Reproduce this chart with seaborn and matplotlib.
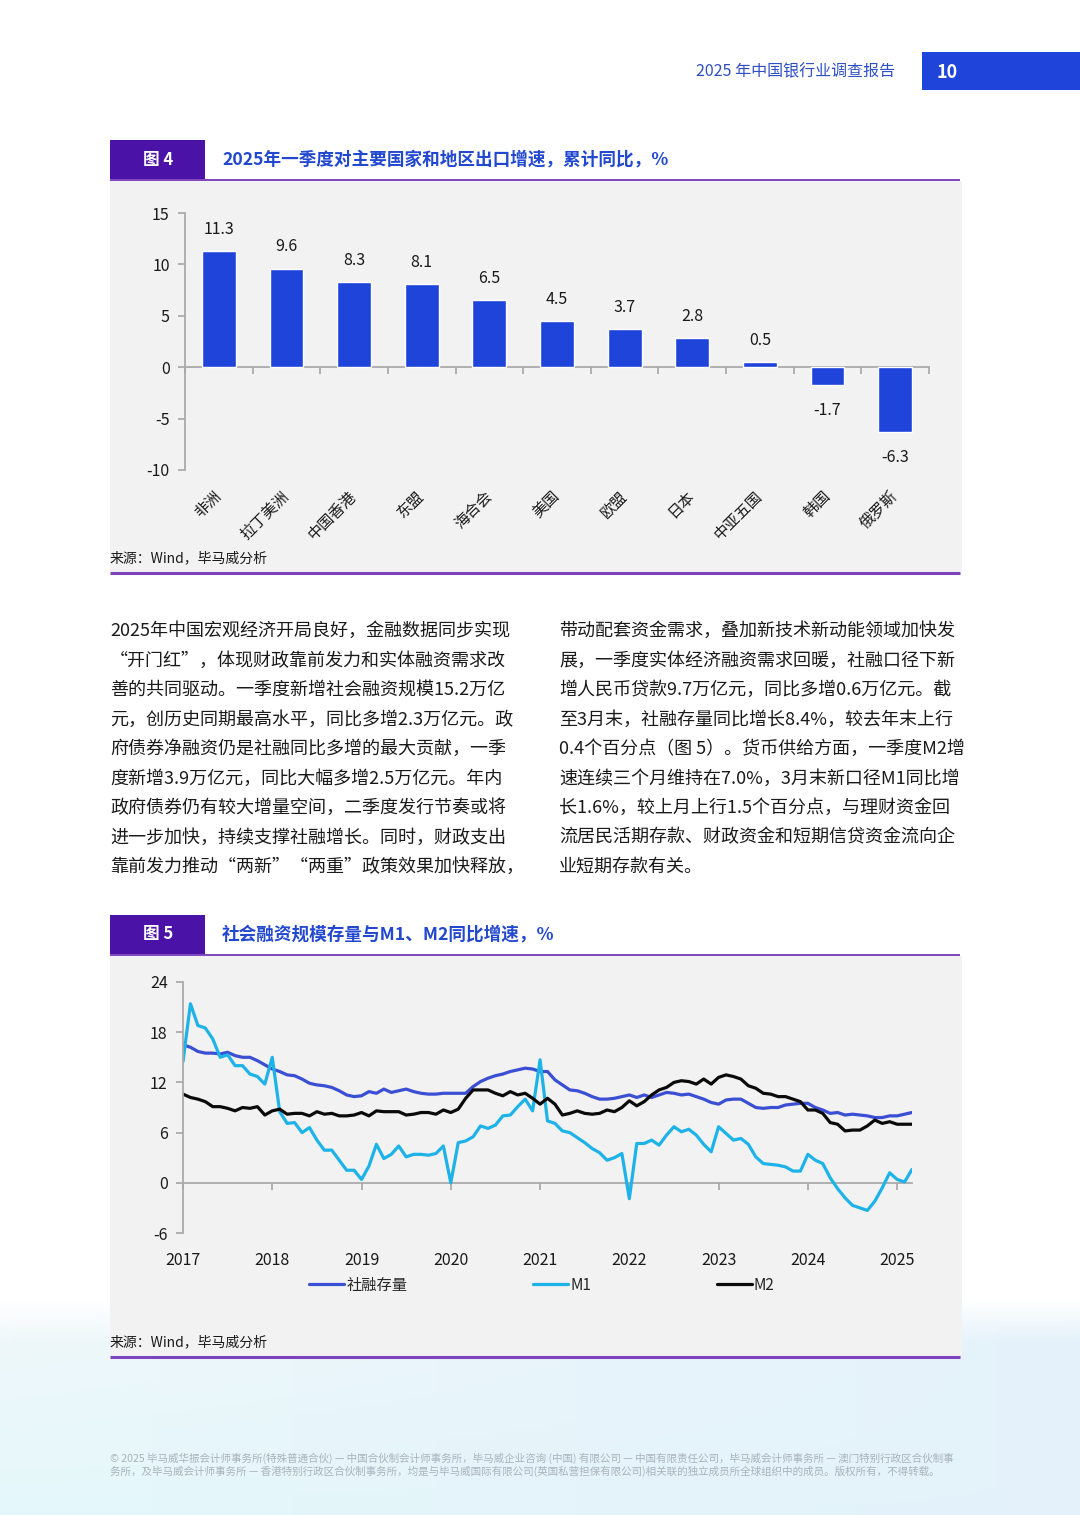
import numpy as np
import pandas as pd
import seaborn as sns
import matplotlib.pyplot as plt
from matplotlib.patches import Rectangle

# ---- data: figure 4 (export growth by region, Q1 2025, %) ----
regions = ["非洲", "拉丁美洲", "中国香港", "东盟", "海合会", "美国", "欧盟", "日本", "中亚五国", "韩国", "俄罗斯"]
export_growth = [11.3, 9.6, 8.3, 8.1, 6.5, 4.5, 3.7, 2.8, 0.5, -1.7, -6.3]

# ---- data: figure 5 (monthly yoy %, Jan 2017 - Mar 2025) ----
start_month = "2017-01"
tsf_stock = [16.5, 16.2, 15.7, 15.5, 15.5, 15.4, 15.6, 15.2, 15.0, 15.0, 14.6, 14.1,
             13.6, 13.3, 12.9, 12.8, 12.4, 11.9, 11.7, 11.6, 11.4, 11.0, 10.5, 10.3,
             10.4, 10.9, 10.7, 11.2, 10.8, 11.0, 11.2, 10.9, 10.7, 10.6, 10.6, 10.7,
             10.7, 10.7, 10.7, 11.5, 12.1, 12.5, 12.8, 13.0, 13.3, 13.5, 13.7, 13.6,
             13.3, 13.3, 12.3, 11.7, 11.1, 11.0, 10.7, 10.3, 10.0, 10.0, 10.1, 10.3,
             10.5, 10.2, 10.5, 10.2, 10.5, 10.8, 10.7, 10.5, 10.6, 10.3, 10.0, 9.6,
             9.4, 9.9, 10.0, 10.0, 9.5, 9.0, 8.9, 9.0, 9.0, 9.3, 9.4, 9.5,
             9.5, 9.0, 8.7, 8.3, 8.4, 8.1, 8.2, 8.1, 8.0, 7.8, 7.8, 8.0,
             8.0, 8.2, 8.4]
m1 = [14.5, 21.4, 18.8, 18.5, 17.2, 15.0, 15.3, 14.0, 14.0, 13.0, 12.7, 11.8,
      15.0, 8.5, 7.1, 7.2, 6.0, 6.6, 5.1, 3.9, 3.9, 2.7, 1.5, 1.5,
      0.4, 2.0, 4.6, 2.9, 3.4, 4.4, 3.1, 3.4, 3.4, 3.3, 3.5, 4.4,
      0.0, 4.8, 5.0, 5.5, 6.8, 6.5, 6.9, 8.0, 8.1, 9.1, 10.0, 8.6,
      14.7, 7.4, 7.1, 6.2, 6.0, 5.4, 4.8, 4.1, 3.6, 2.7, 3.0, 3.5,
      -1.9, 4.7, 4.7, 5.1, 4.5, 5.7, 6.7, 6.1, 6.4, 5.7, 4.6, 3.7,
      6.7, 5.9, 5.1, 5.3, 4.6, 3.1, 2.3, 2.2, 2.1, 1.9, 1.4, 1.4,
      3.4, 2.7, 2.3, 0.6, -0.7, -1.8, -2.7, -3.0, -3.3, -2.2, -0.6, 1.2,
      0.4, 0.1, 1.6]
m2 = [10.6, 10.2, 10.0, 9.7, 9.1, 9.1, 8.9, 8.6, 9.0, 8.9, 9.1, 8.1,
      8.6, 8.8, 8.2, 8.3, 8.3, 8.0, 8.5, 8.2, 8.3, 8.0, 8.0, 8.1,
      8.4, 8.0, 8.6, 8.5, 8.5, 8.5, 8.1, 8.2, 8.4, 8.4, 8.2, 8.7,
      8.4, 8.8, 10.1, 11.1, 11.1, 11.1, 10.7, 10.4, 10.9, 10.5, 10.7, 10.1,
      9.4, 10.1, 9.4, 8.1, 8.3, 8.6, 8.3, 8.2, 8.3, 8.7, 8.5, 9.0,
      9.8, 9.2, 9.7, 10.5, 11.1, 11.4, 12.0, 12.2, 12.1, 11.8, 12.4, 11.8,
      12.6, 12.9, 12.7, 12.4, 11.6, 11.3, 10.7, 10.6, 10.3, 10.3, 10.0, 9.7,
      8.7, 8.7, 8.3, 7.2, 7.0, 6.2, 6.3, 6.3, 6.8, 7.5, 7.1, 7.3,
      7.0, 7.0, 7.0]
series_names = ["社融存量", "M1", "M2"]
year_ticks = list(range(2017, 2026))

left_para = [
    "2025年中国宏观经济开局良好，金融数据同步实现",
    "“开门红”，体现财政靠前发力和实体融资需求改",
    "善的共同驱动。一季度新增社会融资规模15.2万亿",
    "元，创历史同期最高水平，同比多增2.3万亿元。政",
    "府债券净融资仍是社融同比多增的最大贡献，一季",
    "度新增3.9万亿元，同比大幅多增2.5万亿元。年内",
    "政府债券仍有较大增量空间，二季度发行节奏或将",
    "进一步加快，持续支撑社融增长。同时，财政支出",
    "靠前发力推动“两新”“两重”政策效果加快释放，",
]
right_para = [
    "带动配套资金需求，叠加新技术新动能领域加快发",
    "展，一季度实体经济融资需求回暖，社融口径下新",
    "增人民币贷款9.7万亿元，同比多增0.6万亿元。截",
    "至3月末，社融存量同比增长8.4%，较去年末上行",
    "0.4个百分点（图 5）。货币供给方面，一季度M2增",
    "速连续三个月维持在7.0%，3月末新口径M1同比增",
    "长1.6%，较上月上行1.5个百分点，与理财资金回",
    "流居民活期存款、财政资金和短期信贷资金流向企",
    "业短期存款有关。",
]
footer = [
    "© 2025 毕马威华振会计师事务所(特殊普通合伙) — 中国合伙制会计师事务所，毕马威企业咨询 (中国) 有限公司 — 中国有限责任公司，毕马威会计师事务所 — 澳门特别行政区合伙制事",
    "务所，及毕马威会计师事务所 — 香港特别行政区合伙制事务所，均是与毕马威国际有限公司(英国私营担保有限公司)相关联的独立成员所全球组织中的成员。版权所有，不得转载。",
]

sns.set_theme(style="white")
plt.rcParams['font.family'] = ['Noto Sans CJK SC', 'DejaVu Sans']
plt.rcParams['axes.unicode_minus'] = False

BLUE = "#1e44da"
PURPLE = "#4a12a6"
LINE_PURPLE = "#7e44bd"
PANEL = "#f2f2f2"
GREY = "#a8a8a8"
TXT = "#1a1a1a"

W, H = 1080, 1515
fig = plt.figure(figsize=(W / 100, H / 100), dpi=100)


def px_axes(left, top, right, bottom):
    return fig.add_axes([left / W, 1 - bottom / H, (right - left) / W, (bottom - top) / H])


# page background in pixel coordinates
bg = fig.add_axes([0, 0, 1, 1], zorder=0)
rows, cols = 216, 270
yy = np.linspace(0, 1, rows)[:, None]
xx = np.linspace(0, 1, cols)[None, :]
rgba = np.zeros((rows, cols, 4))
rgba[..., 0] = 0.87 + 0.06 * (1 - xx) * (1 - yy)
rgba[..., 1] = 0.935 + 0.03 * (1 - xx)
rgba[..., 2] = 0.98
rgba[..., 3] = np.clip(yy * 5, 0, 1) * 0.8
bg.imshow(rgba, extent=[0, W, H, 1299], aspect='auto', interpolation='bilinear')
bg.set_xlim(0, W)
bg.set_ylim(H, 0)
bg.axis('off')

# header
bg.text(895, 72, "2025 年中国银行业调查报告", ha='right', va='center', color="#2f4fc4", fontsize=11.5)
bg.add_patch(Rectangle((922, 52), 158, 38, color=BLUE, lw=0))
bg.text(937, 72, "10", ha='left', va='center', color='white', fontsize=13, fontweight='bold')


def figure_frame(top, bottom, num, title):
    bg.add_patch(Rectangle((110, top), 95, 39, color=PURPLE, lw=0))
    bg.text(158, top + 19.5, num, ha='center', va='center', color='white', fontsize=12, fontweight='bold')
    bg.text(222, top + 19.5, title, ha='left', va='center', color="#2348d0", fontsize=12.7, fontweight='bold')
    bg.plot([110, 960], [top + 39.5, top + 39.5], color=LINE_PURPLE, lw=1.4, solid_capstyle='butt')
    bg.add_patch(Rectangle((110, top + 41), 852, bottom - top - 42, color=PANEL, lw=0))
    bg.plot([110, 960], [bottom, bottom], color=LINE_PURPLE, lw=2.2, solid_capstyle='butt')
    bg.text(110, bottom - 15, "来源：Wind，毕马威分析", ha='left', va='center', color=TXT, fontsize=10)


figure_frame(140, 573, "图 4", "2025年一季度对主要国家和地区出口增速，累计同比，%")
figure_frame(915, 1357, "图 5", "社会融资规模存量与M1、M2同比增速，%")

# body text
for i, line in enumerate(left_para):
    bg.text(110, 631 + i * 29.5, line, ha='left', va='center', color=TXT, fontsize=13.0)
for i, line in enumerate(right_para):
    bg.text(559, 631 + i * 29.5, line, ha='left', va='center', color=TXT, fontsize=13.0)

# footer
for i, line in enumerate(footer):
    bg.text(110, 1458 + i * 13, line, ha='left', va='center', color="#a9b3bd", fontsize=7.6)

# ---- figure 4: bar chart ----
bar_df = pd.DataFrame({"region": regions, "growth": export_growth})
ax = px_axes(185, 213, 929, 470)
sns.barplot(data=bar_df, x="region", y="growth", color=BLUE, saturation=1, width=0.5, ax=ax)
ax.set_facecolor('none')
ax.set_xlim(-0.5, len(regions) - 0.5)
ax.set_ylim(-10, 15)
ax.set_yticks([-10, -5, 0, 5, 10, 15])
ax.set_xlabel("")
ax.set_ylabel("")
for s in ["top", "right", "bottom"]:
    ax.spines[s].set_visible(False)
ax.spines["left"].set_color(GREY)
ax.tick_params(axis='y', direction='out', length=5, color=GREY, labelsize=11.5, labelcolor=TXT, pad=6, left=True)
ax.tick_params(axis='x', length=0, labelsize=11, labelcolor=TXT, pad=17)
for lab in ax.get_xticklabels():
    lab.set_rotation(45)
    lab.set_ha('right')
    lab.set_va('center')
    lab.set_rotation_mode('anchor')
for i, v in enumerate(export_growth):
    ax.annotate(f"{v:.1f}", (i, v), xytext=(0, 15.5 if v >= 0 else -18.5), textcoords='offset points',
                ha='center', va='center', fontsize=11.5, color=TXT)
zero4 = ax.secondary_xaxis(0, transform=ax.transData)
zero4.set_xticks(np.arange(-0.5, len(regions), 1))
zero4.tick_params(direction='out', length=5, color=GREY, labelbottom=False)
zero4.spines['bottom'].set_color(GREY)

# ---- figure 5: line chart ----
months = pd.date_range(start_month, periods=len(tsf_stock), freq="MS")
t = months.year + (months.month - 1) / 12
line_df = pd.concat([
    pd.DataFrame({"t": t, "value": vals, "series": name})
    for name, vals in zip(series_names, [tsf_stock, m1, m2])
])
ax2 = px_axes(183, 982, 912, 1233)
sns.lineplot(data=line_df, x="t", y="value", hue="series", hue_order=series_names,
             palette=["#3a4fd4", "#1db3e8", "#0a0a0a"], linewidth=2.3, estimator=None, ax=ax2)
ax2.set_facecolor('none')
ax2.set_xlim(2017, 2025 + 2 / 12)
ax2.set_ylim(-6, 24)
ax2.set_yticks([-6, 0, 6, 12, 18, 24])
ax2.set_xticks(year_ticks)
ax2.set_xlabel("")
ax2.set_ylabel("")
for s in ["top", "right", "bottom"]:
    ax2.spines[s].set_visible(False)
ax2.spines["left"].set_color(GREY)
ax2.tick_params(axis='y', direction='out', length=5, color=GREY, labelsize=11.5, labelcolor=TXT, pad=6, left=True)
ax2.tick_params(axis='x', length=0, labelsize=11.5, labelcolor=TXT, pad=14)
zero5 = ax2.secondary_xaxis(0, transform=ax2.transData)
zero5.set_xticks(year_ticks)
zero5.tick_params(direction='out', length=5, color=GREY, labelbottom=False)
zero5.spines['bottom'].set_color(GREY)

handles, labels = ax2.get_legend_handles_labels()
ax2.get_legend().remove()
fig.legend(handles, labels, loc='center', bbox_to_anchor=(542 / W, 1 - 1285 / H), ncol=3, frameon=False,
           fontsize=11, handlelength=2.3, handletextpad=0.15, columnspacing=8.2)

fig.savefig("out.png", dpi=100)
